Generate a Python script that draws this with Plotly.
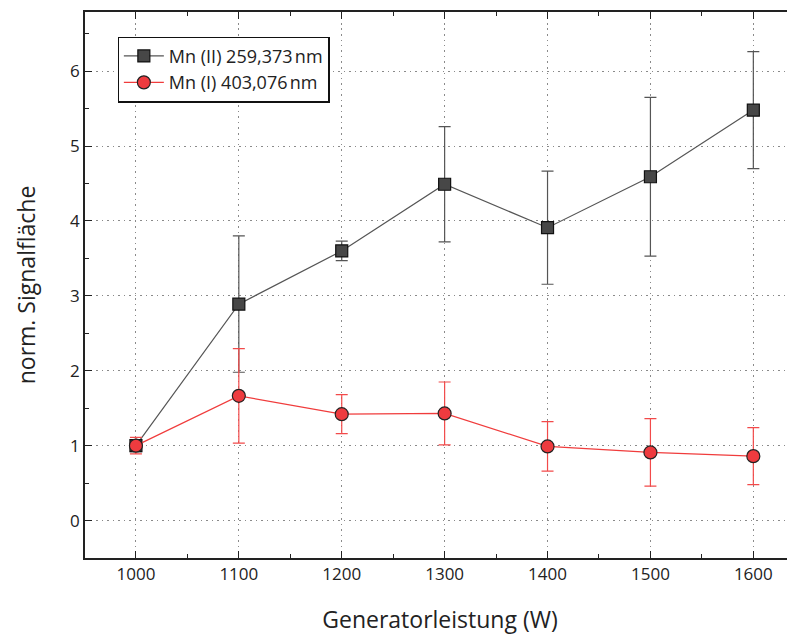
import plotly.graph_objects as go

power = [1000, 1100, 1200, 1300, 1400, 1500, 1600]
mn2_vals = [1.00, 2.89, 3.60, 4.49, 3.91, 4.59, 5.48]
mn2_err = [0.08, 0.91, 0.13, 0.77, 0.755, 1.06, 0.78]
mn1_vals = [1.00, 1.665, 1.42, 1.43, 0.99, 0.91, 0.86]
mn1_err = [0.11, 0.63, 0.26, 0.42, 0.33, 0.45, 0.38]
x_ticks = [1000, 1100, 1200, 1300, 1400, 1500, 1600]
y_ticks = [0, 1, 2, 3, 4, 5, 6]

font_fam = "Open Sans, DejaVu Sans, sans-serif"
ink = "#222222"

fig = go.Figure()
fig.add_trace(go.Scatter(
    x=power, y=mn2_vals, mode="lines+markers", name="Mn (II) 259,373\u202fnm",
    line=dict(color="#555555", width=1.2),
    marker=dict(symbol="square", size=12, color="#474747", line=dict(color="#111111", width=1.2)),
    error_y=dict(type="data", array=mn2_err, visible=True, color="#555555", thickness=1.2, width=6),
))
fig.add_trace(go.Scatter(
    x=power, y=mn1_vals, mode="lines+markers", name="Mn (I) 403,076\u202fnm",
    line=dict(color="#f03c3c", width=1.2),
    marker=dict(symbol="circle", size=13, color="#ee3b3f", line=dict(color="#222222", width=1.2)),
    error_y=dict(type="data", array=mn1_err, visible=True, color="#f24a4a", thickness=1.2, width=6),
))

# page has an 8px body margin: figure is 787x627 so it fills the 795x635 window
fig.update_layout(
    width=787, height=627,
    margin=dict(l=77, r=0, t=4, b=77, autoexpand=False),
    paper_bgcolor="white", plot_bgcolor="white",
    font=dict(family=font_fam, color=ink),
    showlegend=True,
    legend=dict(
        x=0.046, y=0.955, xanchor="left", yanchor="top",
        bgcolor="white", bordercolor="#111111", borderwidth=1.2,
        font=dict(size=18, family=font_fam, color=ink),
        tracegroupgap=0, itemwidth=40,
    ),
)
fig.update_xaxes(
    range=[950.5, 1640.5],
    tickvals=x_ticks, ticktext=[str(v) for v in x_ticks],
    ticks="inside", ticklen=7, tickcolor=ink, tickwidth=1.2,
    minor=dict(dtick=50, tick0=950, ticks="inside", ticklen=4, tickcolor=ink, showgrid=False),
    showline=True, linecolor=ink, linewidth=1.5, mirror="ticks",
    showgrid=True, gridcolor="#8a8a8a", griddash="1.5px,4px", gridwidth=1.2,
    zeroline=False, automargin=False,
    tickfont=dict(size=17, family=font_fam, color=ink),
    title=dict(text="Generatorleistung (W)", font=dict(size=23, family=font_fam, color=ink), standoff=28),
)
fig.update_yaxes(
    range=[-0.5, 6.79],
    tickvals=y_ticks, ticktext=[str(v) for v in y_ticks],
    ticks="inside", ticklen=7, tickcolor=ink, tickwidth=1.2,
    minor=dict(dtick=0.5, tick0=0, ticks="inside", ticklen=4, tickcolor=ink, showgrid=False),
    showline=True, linecolor=ink, linewidth=1.5, mirror=False,
    showgrid=True, gridcolor="#8a8a8a", griddash="1.5px,4px", gridwidth=1.2,
    zeroline=False, automargin=False,
    tickfont=dict(size=17, family=font_fam, color=ink),
    title=dict(text="norm. Signalfläche", font=dict(size=23, family=font_fam, color=ink), standoff=28),
)

fig.write_html("out.html")
